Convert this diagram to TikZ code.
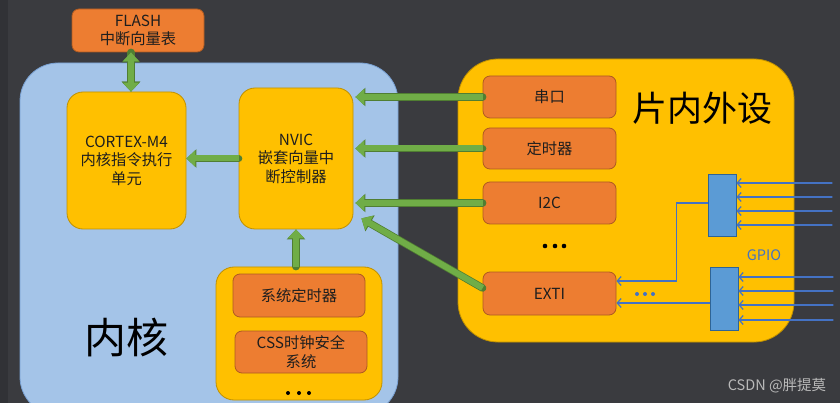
\documentclass[tikz,border=0pt]{standalone}
\usepackage{fontspec}
\setmainfont{Noto Sans CJK SC}
\usetikzlibrary{arrows.meta}
\definecolor{bgdark}{RGB}{58,59,63}
\definecolor{coreblue}{RGB}{164,196,232}
\definecolor{corebd}{RGB}{120,160,210}
\definecolor{ylw}{RGB}{255,192,0}
\definecolor{ylwbd}{RGB}{191,144,0}
\definecolor{org}{RGB}{237,125,49}
\definecolor{orgbd}{RGB}{174,90,33}
\definecolor{grn}{RGB}{112,173,71}
\definecolor{grnbd}{RGB}{80,126,50}
\definecolor{gpblue}{RGB}{91,155,213}
\definecolor{gpbd}{RGB}{46,100,150}
\definecolor{gpline}{RGB}{68,114,196}
\definecolor{txt}{RGB}{30,30,30}
\begin{document}
\begin{tikzpicture}[x=1pt,y=-1pt,line cap=round,
  lbl/.style={text=txt,font=\fontsize{15.3}{18.5}\selectfont,align=center,inner sep=0pt},
  ybox/.style={lbl,draw=ylwbd,fill=ylw,line width=.8pt,rounded corners=16pt},
  obox/.style={lbl,draw=orgbd,fill=org,line width=.8pt,rounded corners=7pt},
  gpbox/.style={draw=gpbd,fill=gpblue,line width=.8pt,minimum width=28pt,inner sep=0pt},
  garrow/.style={draw=grn,line width=6pt,line cap=butt,-{Triangle[length=9pt,width=16pt]},
    preaction={draw=grnbd,line width=7.5pt,-{Triangle[length=10pt,width=18pt]}}},
  garrows/.style={garrow,{Triangle[length=9pt,width=16pt]}-{Triangle[length=9pt,width=16pt]},
    preaction={draw=grnbd,line width=7.5pt,{Triangle[length=10pt,width=18pt]}-{Triangle[length=10pt,width=18pt]}}},
  gline/.style={draw=gpline,line width=1.2pt,-{Straight Barb[length=4pt,width=9pt]}}]
\useasboundingbox (0,0) rectangle (840,403);
\fill[bgdark] (0,0) rectangle (840,403);
\fill[black!15!bgdark] (0,0) rectangle (8,403);
\clip (0,0) rectangle (840,403);
% containers
\node[draw=corebd,fill=coreblue,line width=.8pt,rounded corners=38pt,minimum width=378pt,minimum height=352pt] (core) at (209,239) {};
\node[draw=ylwbd,fill=ylw,line width=.8pt,rounded corners=40pt,minimum width=336pt,minimum height=283pt] (periph) at (626,200.5) {};
\node[font=\fontsize{42}{42}\selectfont,text=black] (corelbl) at (126,337) {内核};
\node[font=\fontsize{35}{35}\selectfont,text=black] (periphlbl) at (702,108) {片内外设};
% core side
\node[obox,minimum width=132pt,minimum height=43pt] (flash) at (138,30.5) {FLASH\\中断向量表};
\node[ybox,minimum width=119pt,minimum height=137pt] (cortex) at (126.5,160.5) {CORTEX-M4\\内核指令执行\\单元};
\node[ybox,minimum width=114pt,minimum height=141pt] (nvic) at (296,158.5) {NVIC\\嵌套向量中\\断控制器};
\node[ybox,minimum width=166pt,minimum height=133pt,rounded corners=18pt] (sysbox) at (299,333.5) {};
\node[obox,minimum width=132pt,minimum height=43pt] (systick) at (299,295.5) {系统定时器};
\node[obox,minimum width=132pt,minimum height=42pt] (css) at (301,352) {CSS时钟安全\\系统};
\foreach \x in {288,299,309} \fill (\x,393) circle (2pt);
% peripherals
\node[obox,minimum width=133pt,minimum height=42pt] (uart) at (549.5,97) {串口};
\node[obox,minimum width=133pt,minimum height=41pt] (tim) at (549.5,148.5) {定时器};
\node[obox,minimum width=133pt,minimum height=42pt] (i2c) at (549.5,203) {I2C};
\node[obox,minimum width=133pt,minimum height=43pt] (exti) at (549.5,293.5) {EXTI};
\foreach \x in {545,555,564} \fill (\x,246) circle (2.3pt);
% GPIO
\node[gpbox,minimum height=62pt] (gpioa) at (722,205) {};
\node[gpbox,minimum height=63pt] (gpiob) at (724,298.5) {};
\node[text=gpline,font=\fontsize{14.5}{14.5}\selectfont] (gpiolbl) at (764,255) {GPIO};
\foreach \y [count=\i] in {183,197,211,225}{\coordinate (pa\i) at (832,\y); \draw[gline] (pa\i) -- (pa\i -| gpioa.east);}
\foreach \y [count=\i] in {277,291,305,320}{\coordinate (pb\i) at (833,\y); \draw[gline] (pb\i) -- (pb\i -| gpiob.east);}
\draw[gline] ([yshift=2pt]gpioa.west) -- ++(-31,0) |- ([yshift=12.5pt]exti.east);
\draw[gline] ([yshift=-4.5pt]gpiob.west) -- ([yshift=-4.5pt]gpiob.west -| exti.east);
\foreach \x in {637,645,653} \fill[gpline] (\x,294) circle (2pt);
% green arrows
\draw[garrows] ([xshift=-7pt]flash.south) -- ([xshift=-7pt]flash.south |- cortex.north);
\foreach \p in {uart,tim,i2c} \draw[garrow] (\p.west) -- ([xshift=2pt]\p.west -| nvic.east);
\draw[garrow] (nvic.west) -- (nvic.west -| cortex.east);
\draw[garrow] (sysbox.north -| nvic.south) -- (nvic.south);
\draw[garrow] ([yshift=5.5pt]exti.west) -- ([xshift=8pt,yshift=11pt]nvic.south east);
\node[text=gray!55,font=\fontsize{14.5}{14.5}\selectfont] (mark) at (777,386) {CSDN @胖提莫};
\end{tikzpicture}
\end{document}
